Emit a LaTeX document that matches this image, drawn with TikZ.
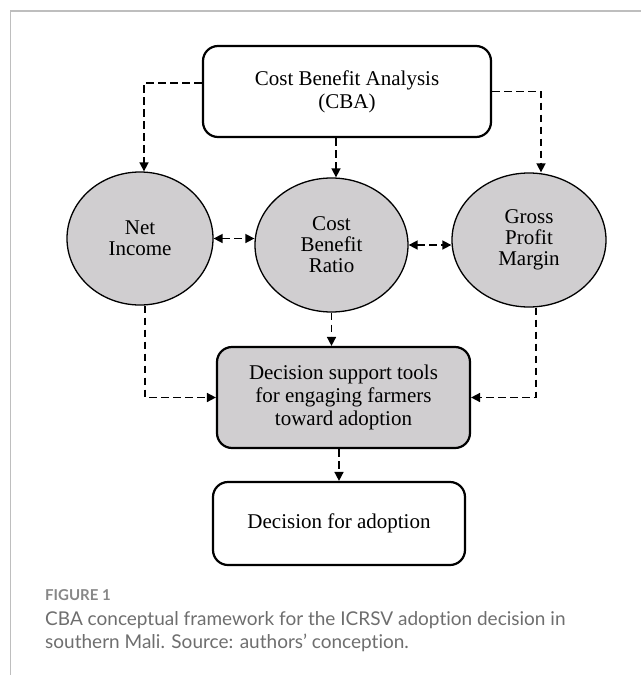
\documentclass[tikz,border=0pt]{standalone}
\usepackage{fontspec}
\setmainfont{Liberation Serif}
\newfontfamily\capfont[Ligatures={NoCommon,NoRare}]{Lato}
\usetikzlibrary{shapes.geometric,arrows.meta}
\definecolor{nodefill}{RGB}{208,206,208}
\definecolor{framegray}{RGB}{190,190,190}
\definecolor{capgray}{RGB}{110,110,110}
\definecolor{figgray}{RGB}{135,135,135}
\begin{document}
\begin{tikzpicture}[x=1pt,y=-1pt,
 box/.style={draw,rounded corners=15pt,line width=2.2pt,inner sep=0pt,align=center,font=\fontsize{21}{23}\selectfont},
 oval/.style={ellipse,draw,fill=nodefill,line width=1.3pt,inner sep=0pt,align=center,font=\fontsize{21}{21}\selectfont},
 dasharrow/.style={draw,line width=1.6pt,dash pattern=on 7.5pt off 4.5pt,-{Triangle[length=9pt,width=9pt]}},
 biarrow/.style={draw,line width=1.6pt,dash pattern=on 7.5pt off 4.5pt,{Triangle[length=9pt,width=9pt]}-{Triangle[length=9pt,width=9pt]}},
 captext/.style={anchor=base west,inner sep=0pt,text=capgray,font=\capfont\fontsize{19}{24}\selectfont}
]
\useasboundingbox (0,0) rectangle (641,675);
\draw[framegray,line width=1.5pt] (10.5,675) -- (10.5,11) -- (641,11);

\node[box,minimum width=288pt,minimum height=91pt] (cba) at (347,91.5) {Cost Benefit Analysis\\(CBA)};
\node[oval,minimum width=146pt,minimum height=133pt] (net) at (140,238.5) {Net\\Income};
\node[oval,minimum width=153pt,minimum height=134pt] (cbr) at (331.5,245) {Cost\\Benefit\\Ratio};
\node[oval,minimum width=154pt,minimum height=134pt] (gpm) at (529,240) {Gross\\Profit\\Margin};
\node[box,fill=nodefill,minimum width=253pt,minimum height=101pt] (dst) at (343.5,397.5) {Decision support tools\\for engaging farmers\\toward adoption};
\node[box,minimum width=252pt,minimum height=83pt] (adopt) at (339,523.5) {Decision for adoption};

\draw[dasharrow] ([yshift=8.5pt]cba.west) -| ([xshift=4pt]net.north);
\draw[dasharrow] (cba.east) -| ([xshift=12pt]gpm.north);
\draw[dasharrow] ([xshift=4.5pt]cbr.north |- cba.south) -- ([xshift=4.5pt]cbr.north);
\draw[biarrow] (net.east) -- (net.east -| cbr.west);
\draw[biarrow] (cbr.east) -- (cbr.east -| gpm.west);
\draw[dasharrow] ([xshift=5pt]net.south) |- (dst.west);
\draw[dasharrow] (cbr.south) -- (cbr.south |- dst.north);
\draw[dasharrow] ([xshift=7pt]gpm.south) |- (dst.east);
\draw[dasharrow] (adopt.north |- dst.south) -- (adopt.north);

\node[anchor=base west,inner sep=0pt,text=figgray,font=\capfont\bfseries\fontsize{15}{17}\selectfont] (fig) at (45,600) {FIGURE 1};
\node[captext] (cap1) at (45,625) {CBA conceptual framework for the ICRSV adoption decision in};
\node[captext] (cap2) at (45,648.5) {southern Mali. Source: authors’ conception.};
\end{tikzpicture}
\end{document}
